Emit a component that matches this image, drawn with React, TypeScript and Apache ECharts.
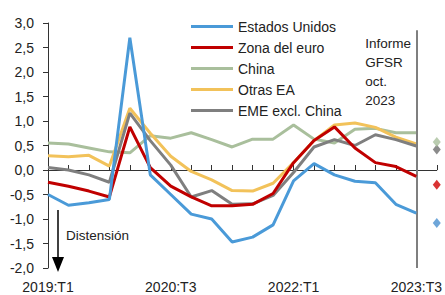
import React, { useEffect, useRef } from "react";
import * as echarts from "echarts";

const quarters = [
  "2019:T1", "2019:T2", "2019:T3", "2019:T4",
  "2020:T1", "2020:T2", "2020:T3", "2020:T4",
  "2021:T1", "2021:T2", "2021:T3", "2021:T4",
  "2022:T1", "2022:T2", "2022:T3", "2022:T4",
  "2023:T1", "2023:T2", "2023:T3", "GFSR",
];
const tickLabels = ["2019:T1", "2020:T3", "2022:T1", "2023:T3"];

const estadosUnidos = [-0.5, -0.72, -0.67, -0.6, 2.7, -0.1, -0.5, -0.9, -1.0, -1.47, -1.37, -1.12, -0.22, 0.13, -0.1, -0.23, -0.26, -0.7, -0.88];
const zonaEuro = [-0.25, -0.33, -0.43, -0.55, 0.88, 0.05, -0.33, -0.55, -0.73, -0.73, -0.7, -0.48, 0.15, 0.6, 0.88, 0.45, 0.15, 0.07, -0.13];
const china = [0.55, 0.53, 0.45, 0.37, 0.35, 0.7, 0.65, 0.76, 0.62, 0.47, 0.63, 0.63, 0.92, 0.63, 0.55, 0.83, 0.85, 0.76, 0.76];
const otrasEA = [0.29, 0.27, 0.3, 0.08, 1.26, 0.75, 0.28, -0.03, -0.2, -0.42, -0.43, -0.27, 0.15, 0.6, 0.92, 0.96, 0.87, 0.67, 0.53];
const emeExclChina = [0.05, 0.0, -0.1, -0.25, 1.16, 0.6, 0.1, -0.55, -0.42, -0.7, -0.69, -0.52, -0.05, 0.47, 0.62, 0.5, 0.72, 0.62, 0.49];

// GFSR Oct. 2023 report values (diamonds)
const gfsrNames = ["China", "EME excl. China", "Zona del euro", "Estados Unidos"];
const gfsrValues = [0.57, 0.42, -0.3, -1.08];

const colors: Record<string, string> = {
  "Estados Unidos": "#4a9ad8",
  "Zona del euro": "#c00000",
  "China": "#a9bf9c",
  "Otras EA": "#f2c25a",
  "EME excl. China": "#7f7f7f",
};
const diamondColors: Record<string, string> = {
  "China": "#a9bf9c",
  "EME excl. China": "#6e6e6e",
  "Zona del euro": "#d00000",
  "Estados Unidos": "#4a90d0",
};

const FONT = "'Liberation Sans', Arial, sans-serif";

export default function App() {
  const ref = useRef<HTMLDivElement>(null);
  useEffect(() => {
    if (!ref.current) return;
    const chart = echarts.init(ref.current, undefined, { renderer: "svg" });
    const lineSeries = (name: string, data: number[], z: number, extra: any = {}) => ({
      type: "line",
      name,
      data,
      xAxisIndex: 0,
      yAxisIndex: 0,
      symbol: "none",
      z,
      lineStyle: { color: colors[name], width: 3 },
      itemStyle: { color: colors[name] },
      ...extra,
    });
    const labelIdx = tickLabels.map((t) => quarters.indexOf(t));
    chart.setOption({
      animation: false,
      textStyle: { fontFamily: FONT },
      grid: { left: 48, right: 7, top: 23, bottom: 27, containLabel: false },
      legend: {
        orient: "vertical",
        left: 186,
        top: 11,
        icon: "rect",
        itemWidth: 42,
        itemHeight: 3,
        itemGap: 0,
        data: ["Estados Unidos", "Zona del euro", "China", "Otras EA", "EME excl. China"],
        textStyle: { fontFamily: FONT, fontSize: 14, color: "#222", lineHeight: 21 },
      },
      xAxis: [
        {
          type: "category",
          data: quarters,
          boundaryGap: false,
          position: "bottom",
          axisLine: { show: false, onZero: false },
          axisTick: { show: false },
          axisLabel: {
            interval: (i: number) => labelIdx.includes(i),
            formatter: (v: string) => (tickLabels.includes(v) ? v : ""),
            margin: 12,
            fontSize: 14,
            color: "#222",
            fontFamily: FONT,
          },
          splitLine: { show: false },
        },
        {
          type: "category",
          data: quarters,
          boundaryGap: false,
          position: "bottom",
          axisLine: { show: true, onZero: true, lineStyle: { color: "#333", width: 1 } },
          axisTick: { show: true, inside: true, length: 5, interval: 0, lineStyle: { color: "#333" } },
          axisLabel: { show: false },
          splitLine: { show: false },
        },
      ],
      yAxis: {
        type: "value",
        min: -2,
        max: 3,
        interval: 0.5,
        axisLine: { show: true, lineStyle: { color: "#333", width: 1 } },
        axisTick: { show: true, length: 5, lineStyle: { color: "#333" } },
        splitLine: { show: false },
        axisLabel: {
          margin: 14,
          fontSize: 14,
          color: "#222",
          fontFamily: FONT,
          formatter: (v: number) => v.toFixed(1).replace(".", ","),
        },
      },
      series: [
        lineSeries("China", china, 2),
        lineSeries("Otras EA", otrasEA, 3),
        lineSeries("EME excl. China", emeExclChina, 4),
        lineSeries("Zona del euro", zonaEuro, 5),
        lineSeries("Estados Unidos", estadosUnidos, 6, {
          markLine: {
            silent: true,
            symbol: "none",
            label: { show: false },
            lineStyle: { color: "#7f7f7f", width: 2, type: "solid" },
            data: [[{ xAxis: "2023:T3", yAxis: 2.85 }, { xAxis: "2023:T3", yAxis: -2 }]],
          },
        }),
        ...gfsrNames.map((n, i) => ({
          type: "scatter",
          name: n + " (GFSR)",
          xAxisIndex: 0,
          yAxisIndex: 0,
          symbol: "diamond",
          symbolSize: [8, 10],
          z: 10 - i,
          itemStyle: { color: diamondColors[n] },
          data: [[quarters[19], gfsrValues[i]]],
        })),
      ],
      graphic: [
        {
          type: "text",
          right: 34,
          top: 34,
          style: {
            text: "Informe\nGFSR\noct.\n2023",
            align: "right",
            fontFamily: FONT,
            fontSize: 13.5,
            lineHeight: 19,
            fill: "#222",
          },
        },
        {
          type: "text",
          left: 66,
          top: 228,
          style: { text: "Distensión", fontFamily: FONT, fontSize: 13.5, fill: "#222" },
        },
        {
          type: "line",
          shape: { x1: 58, y1: 210, x2: 58, y2: 260 },
          style: { stroke: "#000", lineWidth: 1.5 },
        },
        {
          type: "polygon",
          shape: { points: [[52, 257], [64, 257], [58, 272]] },
          style: { fill: "#000" },
        },
      ],
    });
    return () => chart.dispose();
  }, []);
  return <div ref={ref} style={{ width: 445, height: 295, position: "absolute", left: 0, top: 0 }} />;
}
